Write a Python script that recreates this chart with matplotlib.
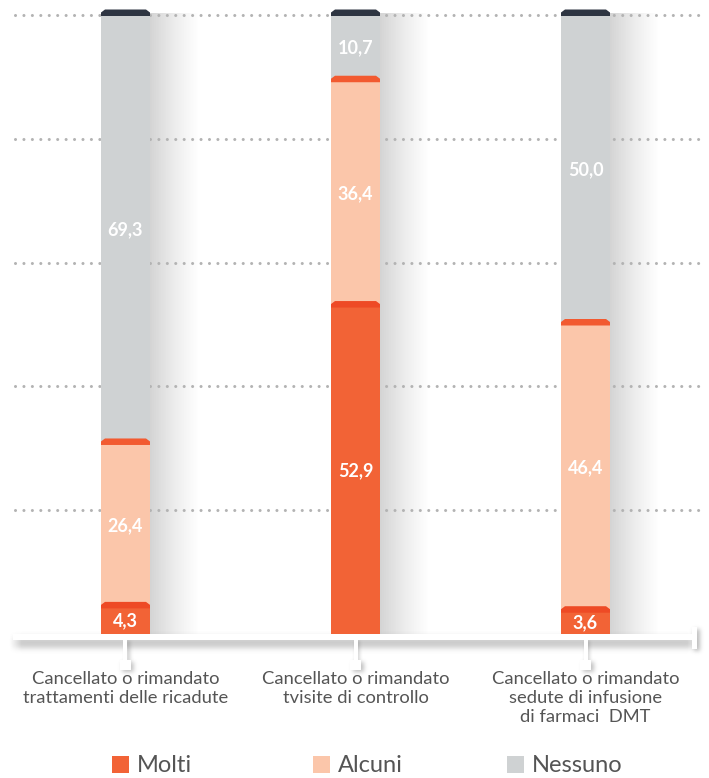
import math
import numpy as np
import matplotlib
matplotlib.use("Agg")
import matplotlib.pyplot as plt
from matplotlib.patches import Polygon, Rectangle

# ---- data ----
categories = [
    "Cancellato o rimandato\ntrattamenti delle ricadute",
    "Cancellato o rimandato\ntvisite di controllo",
    "Cancellato o rimandato\nsedute di infusione\ndi farmaci  DMT",
]
series_names = ["Molti", "Alcuni", "Nessuno"]
molti = [4.3, 52.9, 3.6]
alcuni = [26.4, 36.4, 46.4]
nessuno = [69.3, 10.7, 50.0]
grid_values = [20, 40, 60, 80, 100]

# ---- styling ----
body_colors = ["#f26336", "#fbc6aa", "#cfd2d3"]
cap_colors = ["#ee4a25", "#f25a30", "#2e3542"]
text_gray = "#555555"
FONT = ["Lato", "DejaVu Sans"]

W, H, DPI = 709, 778, 100
fig = plt.figure(figsize=(W / DPI, H / DPI), dpi=DPI)
ax = fig.add_axes([0, 0, 1, 1])
ax.axis("off")

# pixel geometry of the plotting frame
X0_PX, STEP_PX = 125.5, 230.0
Y0_PX, UNIT_PX = 634.0, 6.19


def dx(px):
    return px / STEP_PX


def dy(px):
    return px / UNIT_PX


def X(px):
    return (px - X0_PX) / STEP_PX


def Y(py):
    return (Y0_PX - py) / UNIT_PX


_erf = np.vectorize(math.erf)


def soft_rect_shadow(x0, x1, y0, y1, blur, alpha, pad=None, z=1):
    """Blurred grey rectangle given in pixel coordinates."""
    pad = pad if pad is not None else 3 * blur
    xs = np.linspace(x0 - pad, x1 + pad, 120)
    ys = np.linspace(y0 - pad, y1 + pad, 120)
    fx = 0.5 * (_erf((xs - x0) / blur) - _erf((xs - x1) / blur))
    fy = 0.5 * (_erf((ys - y0) / blur) - _erf((ys - y1) / blur))
    a = alpha * np.outer(fy, fx)
    img = np.zeros((len(ys), len(xs), 4))
    img[..., :3] = 0.35
    img[..., 3] = a
    ax.imshow(img, extent=[X(x0 - pad), X(x1 + pad), Y(y1 + pad), Y(y0 - pad)],
              origin="upper", aspect="auto", interpolation="bilinear", zorder=z)


n = len(categories)
xpos = np.arange(n)
bar_w = dx(49)
series = [molti, alcuni, nessuno]

# soft shadow to the right of each bar
for i in range(n):
    total = molti[i] + alcuni[i] + nessuno[i]
    xr = X0_PX + i * STEP_PX + 24.5
    t = np.linspace(0, 1, 200)
    a = 0.24 * (1 - t) ** 1.2
    img = np.zeros((2, len(t), 4))
    img[..., :3] = 0.3
    img[..., 3] = a[None, :]
    ax.imshow(img, extent=[X(xr), X(xr + 50), 0, total + dy(1)],
              origin="upper", aspect="auto", interpolation="bilinear", zorder=1)

# dotted gridlines
for g in grid_values:
    ax.plot([X(15), X(702)], [g, g], color="#b3b3b3", lw=2.2,
            ls=(0, (0.01, 2.75)), dash_capstyle="round", zorder=2)

# stacked segments
bottoms = np.zeros(n)
for s, vals in enumerate(series):
    ax.bar(xpos, vals, bottom=bottoms, width=bar_w, color=body_colors[s],
           linewidth=0, zorder=3)
    bottoms = bottoms + np.array(vals)

# bevelled caps on top of every segment
tops = np.zeros(n)
for s, vals in enumerate(series):
    tops = tops + np.array(vals)
    for i in range(n):
        l, r = xpos[i] - bar_w / 2, xpos[i] + bar_w / 2
        yb = tops[i]
        pts = [(l, yb - dy(1)), (r, yb - dy(1)), (r, yb + dy(2.5)),
               (r - dx(4), yb + dy(5.5)), (l + dx(4), yb + dy(5.5)),
               (l, yb + dy(2.5))]
        ax.add_patch(Polygon(pts, closed=True, facecolor=cap_colors[s],
                             edgecolor="none", zorder=4))

# value labels centred in each segment
bottoms = np.zeros(n)
for s, vals in enumerate(series):
    for i in range(n):
        c = bottoms[i] + vals[i] / 2
        ax.text(xpos[i], c, f"{vals[i]:.1f}".replace(".", ","), ha="center",
                va="center", color="white", fontsize=13, fontweight="bold",
                family=FONT, zorder=6)
    bottoms = bottoms + np.array(vals)

# baseline with shadow
soft_rect_shadow(13, 696, 637, 648, 4, 0.32, z=1.5)
ax.add_patch(Rectangle((X(13), Y(640)), X(693) - X(13), dy(6),
                       facecolor="white", edgecolor="none", zorder=5))
# end stop at the right
soft_rect_shadow(694, 700, 629, 651, 3, 0.4, z=1.6)
ax.add_patch(Rectangle((X(692), Y(649)), dx(5), dy(22),
                       facecolor="white", edgecolor="none", zorder=5.2))

# category ticks with small squares
for i in range(n):
    c = X0_PX + i * STEP_PX
    soft_rect_shadow(c, c + 4, 641, 662, 2.5, 0.3, z=1.6)
    soft_rect_shadow(c - 3, c + 8, 662, 672, 3, 0.38, z=1.6)
    ax.add_patch(Rectangle((X(c - 2), Y(660)), dx(4), dy(20),
                           facecolor="white", edgecolor="none", zorder=5.2))
    ax.add_patch(Rectangle((X(c - 5.5), Y(669.5)), dx(11), dy(10),
                           facecolor="white", edgecolor="none", zorder=5.2))

# category labels
for i, lab in enumerate(categories):
    ax.text(xpos[i], Y(671), lab, ha="center", va="top", color=text_gray,
            fontsize=13.2, family=FONT, linespacing=1.25, zorder=6)

# legend
legend_sq_px = [112, 313, 507]
for s, name in enumerate(series_names):
    x_sq = legend_sq_px[s]
    ax.add_patch(Rectangle((X(x_sq), Y(773)), dx(17), dy(17),
                           facecolor=body_colors[s], edgecolor="none", zorder=6))
    ax.text(X(x_sq + 25), Y(765), name, ha="left", va="center",
            color=text_gray, fontsize=17, family=FONT, zorder=6)

ax.set_xlim(-X0_PX / STEP_PX, (W - X0_PX) / STEP_PX)
ax.set_ylim((Y0_PX - H) / UNIT_PX, Y0_PX / UNIT_PX)

fig.savefig("out.png", dpi=DPI)
